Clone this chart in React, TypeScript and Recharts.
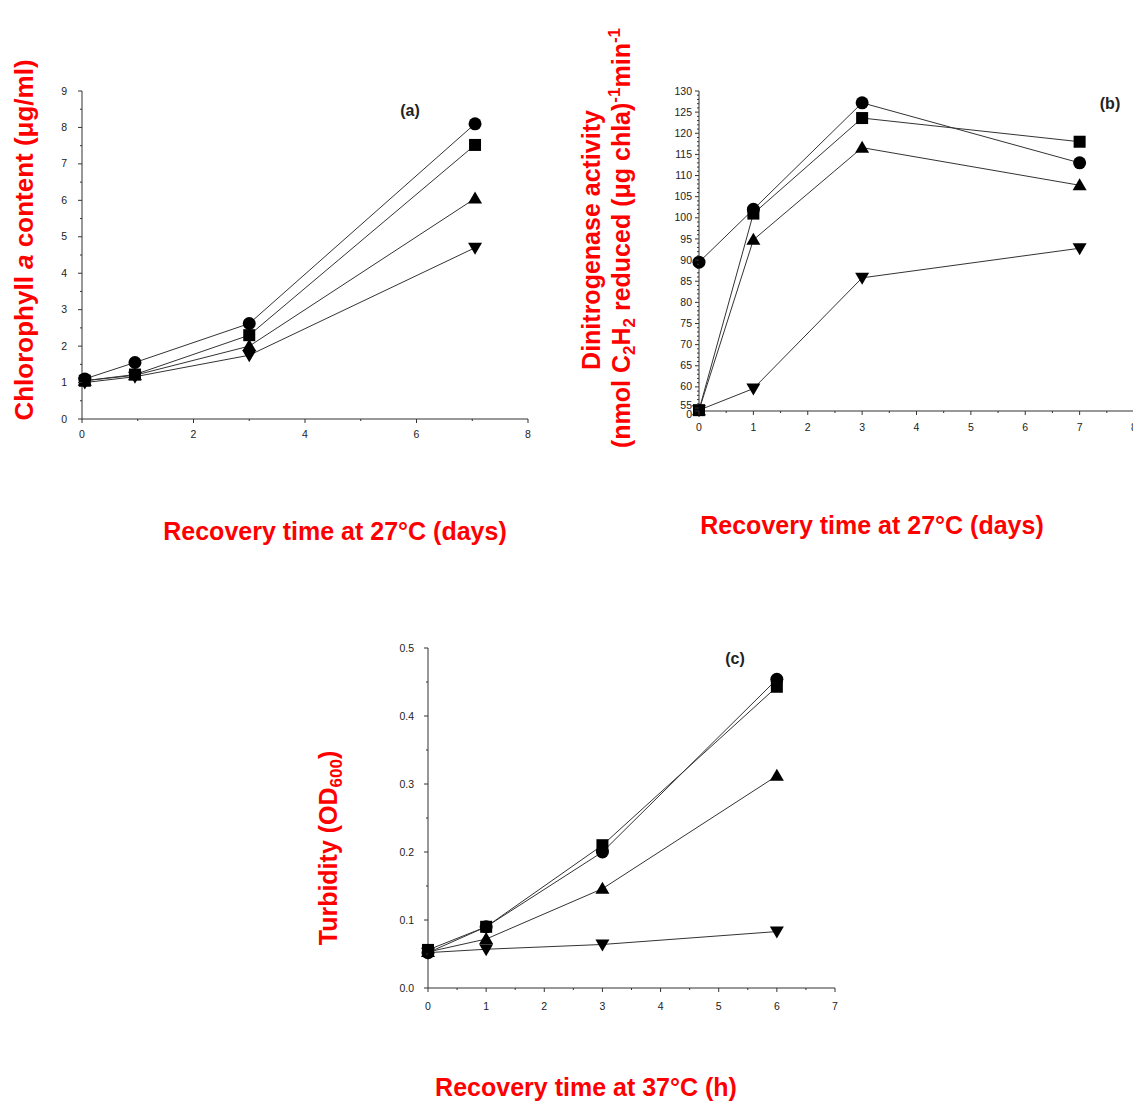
import { Line, LineChart, XAxis, YAxis } from "recharts";

// ---- panel (a): chlorophyll a, recovery at 27 C
const daysA = [0.05, 0.95, 3, 7.05];
const chlCircle = [1.1, 1.55, 2.62, 8.1];
const chlSquare = [1.05, 1.22, 2.3, 7.52];
const chlUp = [1.05, 1.2, 2.0, 6.05];
const chlDown = [1.0, 1.16, 1.75, 4.7];
const xMajorA = [0, 2, 4, 6, 8];
const yMajorA = [0, 1, 2, 3, 4, 5, 6, 7, 8, 9];

// ---- panel (b): dinitrogenase activity
const daysB = [0, 1, 3, 7];
const nifCircle = [89.5, 102, 127.2, 113];
const nifSquare = [54.5, 101, 123.6, 118];
const nifUp = [54.5, 94.8, 116.6, 107.7];
const nifDown = [54.5, 59.6, 85.8, 92.8];
const xMajorB = [0, 1, 2, 3, 4, 5, 6, 7, 8];
const yBottomB = 54.3; // broken axis, drawn as "0"
const yMajorB = [55, 60, 65, 70, 75, 80, 85, 90, 95, 100, 105, 110, 115, 120, 125, 130];

// ---- panel (c): turbidity, recovery at 37 C
const hoursC = [0, 1, 3, 6];
const odCircle = [0.052, 0.09, 0.2, 0.454];
const odSquare = [0.056, 0.09, 0.21, 0.443];
const odUp = [0.053, 0.072, 0.146, 0.312];
const odDown = [0.052, 0.057, 0.064, 0.083];
const xMajorC = [0, 1, 2, 3, 4, 5, 6, 7];
const yMajorC = [0, 0.1, 0.2, 0.3, 0.4, 0.5];

const RED = "#ff0000";
const INK = "#333";
const FONT = "'Liberation Sans', Arial, sans-serif";

type Shape = "circle" | "square" | "up" | "down";

const steps = (from: number, to: number, step: number) => {
  const out: number[] = [];
  for (let v = from; v <= to + 1e-9; v += step) out.push(Math.round(v * 1000) / 1000);
  return out;
};

function Marker({ cx, cy, shape }: { cx: number; cy: number; shape: Shape }) {
  if (cx == null || cy == null) return null;
  if (shape === "circle") return <circle cx={cx} cy={cy} r={6.5} fill="#000" />;
  if (shape === "square")
    return <rect x={cx - 6} y={cy - 6} width={12} height={12} fill="#000" />;
  if (shape === "up")
    return (
      <polygon
        points={`${cx},${cy - 7} ${cx - 7},${cy + 5} ${cx + 7},${cy + 5}`}
        fill="#000"
      />
    );
  return (
    <polygon
      points={`${cx - 7},${cy - 5} ${cx + 7},${cy - 5} ${cx},${cy + 7}`}
      fill="#000"
    />
  );
}

const dotFor = (shape: Shape) => (p: any) =>
  <Marker key={`${shape}-${p.index}`} cx={p.cx} cy={p.cy} shape={shape} />;

const isMajor = (majors: number[], v: number) =>
  majors.some((m) => Math.abs(m - v) < 1e-6);

// custom tick: long tick + label for majors, short tick for minors
const makeTick =
  (
    axis: "x" | "y",
    majors: number[],
    fmt: (v: number) => string,
    gap: number,
    shift: (v: number) => number = () => 0
  ) =>
  (props: any) => {
    const { x, y, payload, index } = props;
    const v = payload.value;
    const major = isMajor(majors, v);
    const len = major ? 4 : 2;
    const key = `${axis}-${index}`;
    if (axis === "x") {
      return (
        <g key={key}>
          <line x1={x} y1={y} x2={x} y2={y + len} stroke={INK} />
          {major && (
            <text x={x} y={y + 4 + gap} dy="0.71em" textAnchor="middle"
              fontSize={10.5} fontFamily={FONT} fill="#222">
              {fmt(v)}
            </text>
          )}
        </g>
      );
    }
    return (
      <g key={key}>
        <line x1={x - len} y1={y} x2={x} y2={y} stroke={INK} />
        {major && (
          <text x={x - 4 - gap} y={y + shift(v)} dy="0.34em" textAnchor="end"
            fontSize={10.5} fontFamily={FONT} fill="#222">
            {fmt(v)}
          </text>
        )}
      </g>
    );
  };

type PanelProps = {
  x0: number; y0: number; x1: number; y1: number;
  xs: number[];
  values: Record<Shape, number[]>;
  xDomain: [number, number];
  yDomain: [number, number];
  xTicks: number[]; xMajors: number[];
  yTicks: number[]; yMajors: number[];
  yFmt: (v: number) => string;
  xGap: number; yGap: number;
  yShift?: (v: number) => number;
};

const YW = 60;
const XH = 40;
const MT = 10;
const MR = 10;

function Panel(p: PanelProps) {
  const rows = p.xs.map((x, i) => ({
    x,
    down: p.values.down[i],
    up: p.values.up[i],
    square: p.values.square[i],
    circle: p.values.circle[i],
  }));
  const w = p.x1 - p.x0 + YW + MR;
  const h = p.y1 - p.y0 + MT + XH;
  const order: Shape[] = ["down", "up", "square", "circle"];
  return (
    <div style={{ position: "absolute", left: p.x0 - YW, top: p.y0 - MT }}>
      <LineChart width={w} height={h} data={rows}
        margin={{ top: MT, right: MR, bottom: 0, left: 0 }}>
        <XAxis dataKey="x" type="number" domain={p.xDomain} ticks={p.xTicks}
          interval={0} height={XH} tickSize={0} tickMargin={0}
          axisLine={{ stroke: INK }} tickLine={false}
          tick={makeTick("x", p.xMajors, (v) => String(v), p.xGap)} />
        <YAxis type="number" domain={p.yDomain} ticks={p.yTicks} interval={0}
          width={YW} tickSize={0} tickMargin={0} axisLine={{ stroke: INK }}
          tickLine={false}
          tick={makeTick("y", p.yMajors, p.yFmt, p.yGap, p.yShift)} />
        {order.map((s) => (
          <Line key={s} type="linear" dataKey={s} stroke={INK} strokeWidth={1}
            dot={dotFor(s)} activeDot={false} isAnimationActive={false} />
        ))}
      </LineChart>
    </div>
  );
}

const titleStyle = {
  fontFamily: FONT,
  fontWeight: "bold" as const,
  fontSize: 25,
  fill: RED,
};

function Titles() {
  return (
    <svg width={1133} height={1102}
      style={{ position: "absolute", left: 0, top: 0, pointerEvents: "none" }}>
      {/* panel (a) */}
      <text transform="translate(33,240) rotate(-90)" textAnchor="middle" {...titleStyle}
        fontSize={26}>
        Chlorophyll <tspan fontStyle="italic">a</tspan> content (μg/ml)
      </text>
      <text x={335} y={540} textAnchor="middle" {...titleStyle}>
        Recovery time at 27°C (days)
      </text>
      <text x={410} y={116} textAnchor="middle" fontFamily={FONT} fontWeight="bold"
        fontSize={16} fill="#222">(a)</text>

      {/* panel (b) */}
      <text transform="translate(600,240) rotate(-90)" textAnchor="middle" {...titleStyle}>
        Dinitrogenase activity
      </text>
      <text transform="translate(630,238) rotate(-90)" textAnchor="middle" {...titleStyle}>
        (nmol C<tspan fontSize={17} dy={5}>2</tspan>
        <tspan dy={-5}>H</tspan>
        <tspan fontSize={17} dy={5}>2</tspan>
        <tspan dy={-5}> reduced (μg chla)</tspan>
        <tspan fontSize={17} dy={-10}>-1</tspan>
        <tspan dy={10}>min</tspan>
        <tspan fontSize={17} dy={-10}>-1</tspan>
      </text>
      <text x={872} y={534} textAnchor="middle" {...titleStyle}>
        Recovery time at 27°C (days)
      </text>
      <text x={1110} y={109} textAnchor="middle" fontFamily={FONT} fontWeight="bold"
        fontSize={16} fill="#222">(b)</text>

      {/* panel (c) */}
      <text transform="translate(337,848) rotate(-90)" textAnchor="middle" {...titleStyle}>
        Turbidity (OD<tspan fontSize={17} dy={5}>600</tspan>
        <tspan dy={-5}>)</tspan>
      </text>
      <text x={586} y={1096} textAnchor="middle" {...titleStyle}>
        Recovery time at 37°C (h)
      </text>
      <text x={735} y={664} textAnchor="middle" fontFamily={FONT} fontWeight="bold"
        fontSize={16} fill="#222">(c)</text>
    </svg>
  );
}

export default function App() {
  return (
    <div style={{ position: "fixed", left: 0, top: 0, width: 1133, height: 1102,
      overflow: "hidden", background: "#fff" }}>
      <Panel x0={82} y0={91} x1={528} y1={419} xs={daysA}
        values={{ circle: chlCircle, square: chlSquare, up: chlUp, down: chlDown }}
        xDomain={[0, 8]} yDomain={[0, 9]}
        xTicks={steps(0, 8, 1)} xMajors={xMajorA}
        yTicks={steps(0, 9, 0.5)} yMajors={yMajorA}
        yFmt={(v) => String(v)} xGap={8} yGap={11} />
      <Panel x0={699} y0={91} x1={1134} y1={411} xs={daysB}
        values={{ circle: nifCircle, square: nifSquare, up: nifUp, down: nifDown }}
        xDomain={[0, 8]} yDomain={[yBottomB, 130]}
        xTicks={steps(0, 8, 0.5)} xMajors={xMajorB}
        yTicks={[yBottomB, ...steps(55, 130, 1)]} yMajors={[yBottomB, ...yMajorB]}
        yFmt={(v) => (v === yBottomB ? "0" : String(v))}
        yShift={(v) => (v === yBottomB ? 3 : v === 55 ? -3 : 0)}
        xGap={9} yGap={3} />
      <Panel x0={428} y0={648} x1={835} y1={988} xs={hoursC}
        values={{ circle: odCircle, square: odSquare, up: odUp, down: odDown }}
        xDomain={[0, 7]} yDomain={[0, 0.5]}
        xTicks={steps(0, 7, 0.5)} xMajors={xMajorC}
        yTicks={steps(0, 0.5, 0.05)} yMajors={yMajorC}
        yFmt={(v) => v.toFixed(1)} xGap={11} yGap={10} />
      <Titles />
    </div>
  );
}
